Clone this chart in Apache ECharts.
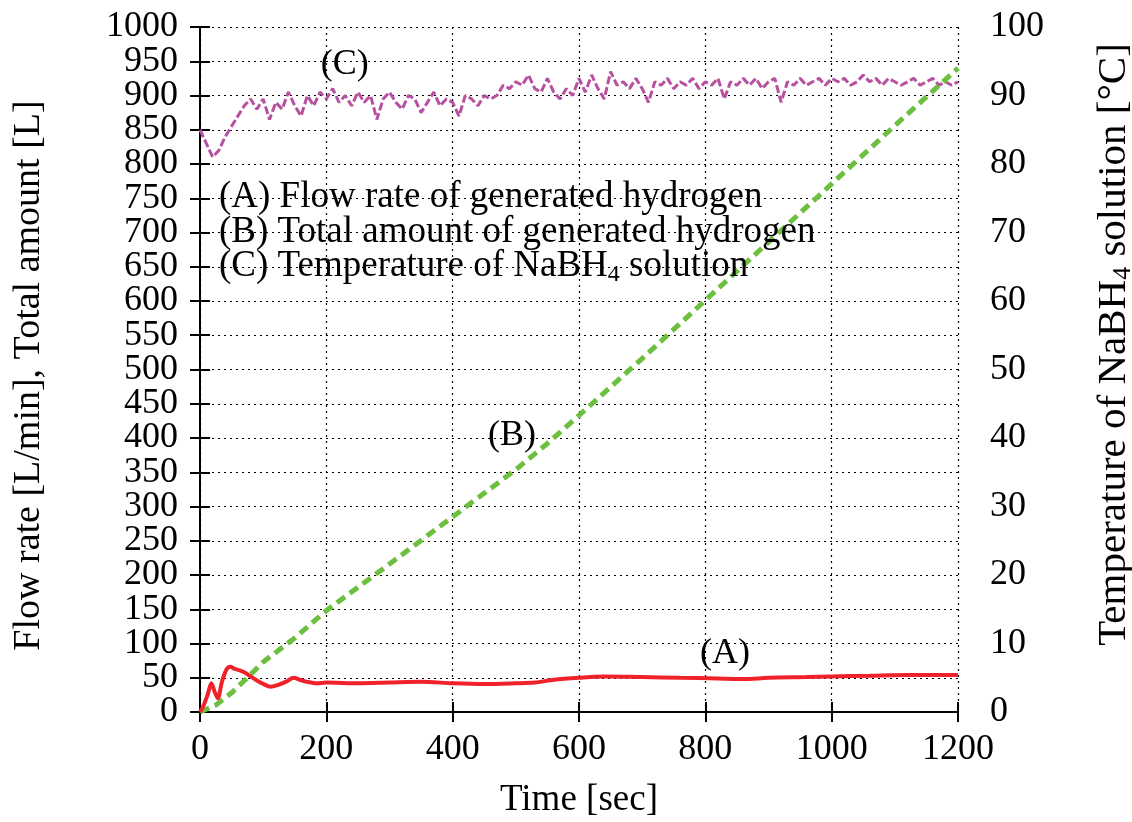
<!DOCTYPE html>
<html>
<head>
<meta charset="utf-8">
<script src="https://cdn.jsdelivr.net/npm/echarts@6/dist/echarts.min.js"></script>
<style>
html, body { margin: 0; padding: 0; background: #fff; }
#main { width: 1132px; height: 822px; }
</style>
</head>
<body>
<div id="main"></div>
<script>
// (A) flow rate [L/min]
var timeA = [0, 5, 12, 18, 23, 28, 35, 42, 48, 55, 62, 70, 80, 90, 100, 112, 125, 138, 148, 158, 170, 185, 200, 250, 300, 350, 400, 450, 500, 530, 560, 600, 640, 700, 760, 820, 860, 900, 960, 1000, 1060, 1120, 1200];
var flowA = [0, 8, 25, 42, 30, 20, 45, 62, 66, 63, 61, 58, 52, 46, 41, 37, 40, 45, 50, 47, 44, 42, 43, 42, 43, 44, 42, 41, 42, 43, 47, 50, 52, 51, 50, 49, 48, 50, 51, 52, 53, 54, 54];

// (B) total amount [L]
var timeB = [0, 25, 50, 75, 100, 150, 200, 300, 400, 500, 550, 600, 700, 800, 900, 1000, 1100, 1200];
var totalB = [0, 10, 28, 50, 73, 108, 148, 216, 285, 354, 392, 433, 516, 601, 686, 771, 856, 940];

// (C) temperature [deg C], one reading every 10 s from 0 to 1200
var tempC = [
  85.0, 83.0, 81.0, 82.0, 84.0, 85.5, 87.0, 88.5, 89.5, 88.0,
  89.5, 86.5, 89.0, 88.0, 90.5, 88.5, 87.0, 90.0, 88.5, 90.5,
  89.5, 91.0, 89.0, 90.0, 88.5, 90.5, 89.0, 90.0, 86.5, 89.5,
  90.5, 89.0, 88.0, 90.0, 89.5, 87.5, 89.0, 90.5, 88.5, 89.5,
  89.0, 87.0, 90.0, 89.5, 88.5, 90.0, 89.5, 90.0, 91.5, 91.0,
  92.0, 91.5, 93.0, 91.0, 90.5, 92.5, 90.5, 89.5, 91.0, 90.0,
  92.5, 90.5, 93.0, 91.0, 89.5, 93.5, 91.5, 92.0, 91.0, 92.5,
  91.0, 89.0, 92.0, 91.5, 92.5, 91.0, 92.0, 91.5, 92.5, 91.0,
  92.0, 91.5, 92.5, 89.5, 92.0, 91.5, 92.5, 91.5, 92.5, 91.0,
  92.0, 92.5, 89.0, 92.0, 91.5, 92.5, 91.5, 92.0, 92.5, 91.5,
  92.5, 92.0, 92.5, 91.5, 92.0, 93.0, 92.0, 92.5, 91.5, 92.5,
  92.0, 91.5, 92.0, 92.5, 91.5, 92.0, 92.5, 91.5, 92.0, 91.5,
  92.0
];
var stepC = 10;

var legendLines = [
  '(A) Flow rate of generated hydrogen',
  '(B) Total amount of generated hydrogen',
  '(C) Temperature of NaBH{sub|4} solution'
];

var font = 'Liberation Serif';

function zip(xs, ys) {
    var out = [];
    for (var i = 0; i < xs.length; i++) out.push([xs[i], ys[i]]);
    return out;
}
var dataC = [];
for (var i = 0; i < tempC.length; i++) dataC.push([i * stepC, tempC[i]]);

var dom = document.getElementById('main');
var myChart = echarts.init(dom);

var gridDots = { show: true, lineStyle: { color: '#000', type: [2, 4], width: 1.2 } };
var subRich = { sub: { fontFamily: font, fontSize: 26, padding: [18, 0, 0, 0] } };
var plain = function (v) { return String(v); };
var tickLabel = { color: '#000', fontFamily: font, fontSize: 36 };

var legendGraphics = [];
for (var j = 0; j < legendLines.length; j++) {
    legendGraphics.push({
        type: 'text',
        left: 219,
        top: 179 + j * 34.5,
        z: 50,
        style: {
            text: legendLines[j],
            fill: '#000',
            font: '37px "Liberation Serif"',
            rich: { sub: { fontFamily: font, fontSize: 24, padding: [16, 0, 0, 0] } }
        }
    });
}

function tag(text, coord) {
    return {
        symbol: 'circle',
        symbolSize: 0,
        label: { show: true, position: 'inside', formatter: text, color: '#000', fontFamily: font, fontSize: 36 },
        data: [{ coord: coord }]
    };
}

var option = {
    animation: false,
    grid: { left: 200, right: 174, top: 27, bottom: 110, outerBoundsMode: 'none', containLabel: false },
    xAxis: [{
        type: 'value', min: 0, max: 1200, interval: 200,
        name: 'Time [sec]', nameLocation: 'middle', nameGap: 70,
        nameTextStyle: { color: '#000', fontFamily: font, fontSize: 37 },
        axisLine: { lineStyle: { color: '#000', width: 2 } },
        axisTick: { inside: true, length: 10, lineStyle: { color: '#000', width: 2 } },
        axisLabel: { color: '#000', fontFamily: font, fontSize: 36, margin: 20, formatter: plain },
        splitLine: gridDots
    }, {
        type: 'value', min: 0, max: 1200, interval: 200, position: 'top',
        axisLine: { show: true, lineStyle: { color: '#000', width: 2 } },
        axisTick: { inside: true, length: 10, lineStyle: { color: '#000', width: 2 } },
        axisLabel: { show: false },
        splitLine: { show: false }
    }],
    yAxis: [{
        // left axis, labels at every 100
        type: 'value', min: 0, max: 1000, interval: 50,
        name: 'Flow rate [L/min], Total amount [L]', nameLocation: 'middle', nameGap: 152,
        nameTextStyle: { color: '#000', fontFamily: font, fontSize: 38, padding: [0, 12, 0, 0] },
        axisLine: { show: true, lineStyle: { color: '#000', width: 2 } },
        axisTick: { inside: true, length: 10, lineStyle: { color: '#000', width: 2 } },
        axisLabel: Object.assign({ margin: 22, formatter: function (v) { return v % 100 === 0 ? String(v) : ''; } }, tickLabel),
        splitLine: gridDots
    }, {
        type: 'value', min: 0, max: 100, interval: 5, position: 'right',
        name: 'Temperature of NaBH{sub|4} solution [°C]', nameLocation: 'middle', nameGap: 134, nameRotate: 90,
        nameTextStyle: { color: '#000', fontFamily: font, fontSize: 41, rich: subRich, padding: [0, 0, 0, 50] },
        axisLine: { show: true, lineStyle: { color: '#000', width: 2 } },
        axisTick: { inside: true, length: 10, lineStyle: { color: '#000', width: 2 } },
        axisLabel: Object.assign({ margin: 32, formatter: function (v) { return v % 10 === 0 ? String(v) : ''; } }, tickLabel),
        splitLine: { show: false }
    }, {
        // left axis, the in-between labels (50, 150, ... 950)
        type: 'value', min: 0, max: 1000, interval: 50, position: 'left',
        axisLine: { show: false },
        axisTick: { show: false },
        axisLabel: Object.assign({ margin: 22, formatter: function (v) { return v % 100 === 50 ? String(v) : ''; } }, tickLabel),
        splitLine: { show: false }
    }],
    graphic: legendGraphics,
    series: [{
        name: 'A', type: 'line', xAxisIndex: 0, yAxisIndex: 0,
        data: zip(timeA, flowA), showSymbol: false, smooth: 0.3,
        lineStyle: { color: '#ee2228', width: 4 },
        itemStyle: { color: '#ee2228' },
        markPoint: tag('(A)', [831, 86]),
        z: 4
    }, {
        name: 'B', type: 'line', xAxisIndex: 0, yAxisIndex: 0,
        data: zip(timeB, totalB), showSymbol: false,
        lineStyle: { color: '#6cbf3f', width: 5, type: [10, 6] },
        itemStyle: { color: '#6cbf3f' },
        markPoint: tag('(B)', [494, 404]),
        z: 3
    }, {
        name: 'C', type: 'line', xAxisIndex: 0, yAxisIndex: 1,
        data: dataC, showSymbol: false,
        lineStyle: { color: '#b6509f', width: 3, type: [8, 3] },
        itemStyle: { color: '#b6509f' },
        markPoint: tag('(C)', [229, 94.5]),
        z: 2
    }]
};

myChart.setOption(option, true);
</script>
</body>
</html>
